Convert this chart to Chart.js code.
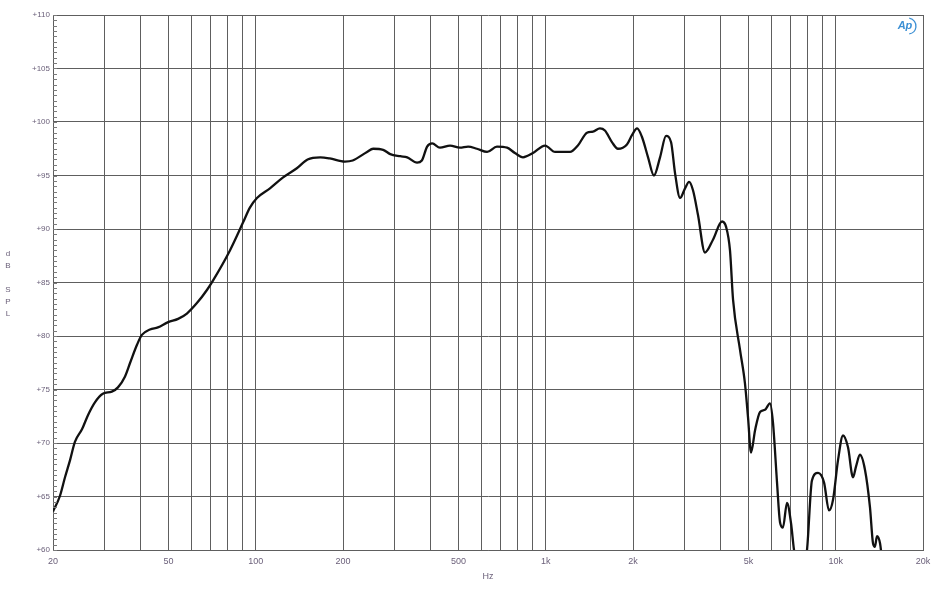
<!DOCTYPE html>
<html>
<head>
<meta charset="utf-8">
<script src="https://cdn.jsdelivr.net/npm/chart.js@4.4.1/dist/chart.umd.min.js"></script>
<style>
  html, body { margin: 0; padding: 0; background: #fff; }
</style>
</head>
<body>
<canvas id="splChart" width="940" height="600"></canvas>
<script>
// frequency response (Hz / dB SPL)
const freqs = [20, 21.1, 22, 22.9, 23.8, 25.2, 26.4, 27.9, 29.7, 31.9, 33.5, 35.4, 36.9, 39, 40.5, 43.2, 46, 49.9, 54, 57.9,
  62.8, 67.9, 71.3, 81.5, 90.4, 95.5, 101, 112, 124, 139, 151, 167, 180, 203, 216, 242, 254, 275, 291, 315,
  333, 360, 374, 390, 406, 432, 468, 506, 540, 579, 628, 679, 736, 783, 835, 904, 995, 1077, 1213, 1291,
  1388, 1456, 1538, 1600, 1694, 1774, 1906, 1986, 2066, 2148, 2254, 2362, 2479, 2600, 2706, 2793, 2906, 3023, 3121, 3222,
  3351, 3542, 3774, 4055, 4188, 4320, 4426, 4678, 4864, 4985, 5106, 5272, 5484, 5704, 5933, 6077, 6276, 6426, 6579, 6792,
  7014, 7182, 7532, 7962, 8281, 8690, 9117, 9482, 9790, 10186, 10598, 11027, 11472, 11748, 12126, 12616, 13126, 13452, 13656, 13880,
  14223, 14673, 16000, 20000];
const spl = [63.6, 65.0, 66.8, 68.4, 70.1, 71.3, 72.6, 73.8, 74.6, 74.8, 75.2, 76.2, 77.5, 79.2, 80.1, 80.6, 80.8, 81.3, 81.6, 82.1,
  83.1, 84.3, 85.2, 88.0, 90.6, 92.0, 92.9, 93.8, 94.8, 95.7, 96.5, 96.7, 96.6, 96.3, 96.4, 97.2, 97.5, 97.4, 97.0, 96.8,
  96.7, 96.2, 96.4, 97.7, 98.0, 97.6, 97.8, 97.6, 97.7, 97.5, 97.2, 97.7, 97.6, 97.1, 96.7, 97.1, 97.8, 97.2, 97.2, 97.8,
  99.0, 99.1, 99.4, 99.2, 98.1, 97.5, 97.9, 98.8, 99.4, 98.6, 96.7, 95.0, 96.7, 98.7, 98.1, 95.2, 92.9, 93.8, 94.4, 93.6,
  91.3, 87.8, 89.0, 90.7, 90.2, 88.0, 83.4, 78.7, 75.6, 72.4, 69.1, 71.2, 72.9, 73.1, 73.7, 71.9, 66.3, 62.6, 62.1, 64.4,
  62.5, 60.0, 57.0, 60.0, 66.5, 67.2, 66.3, 63.7, 64.7, 68.4, 70.7, 69.6, 66.8, 67.8, 68.9, 67.5, 64.0, 60.6, 60.3, 61.3,
  60.6, 57.5, 55, 50];

// axes
const xGrid = [20, 30, 40, 50, 60, 70, 80, 90, 100, 200, 300, 400, 500, 600, 700, 800, 900,
  1000, 2000, 3000, 4000, 5000, 6000, 7000, 8000, 9000, 10000, 20000];
const xLabelled = [20, 50, 100, 200, 500, 1000, 2000, 5000, 10000, 20000];
const yMin = 60, yMax = 110, yStep = 5, yMinorStep = 0.5;
const yTitle = ["d", "B", "", "S", "P", "L"];

const textColor = "#6b607a";
const gridColor = "#5e5e5e";

const points = freqs.map((f, i) => ({ x: f, y: spl[i] }));

function fmtHz(v) {
  return v >= 1000 ? v / 1000 + "k" : "" + v;
}

// little extras: minor ticks on the y axis, stacked y title, logo
const extras = {
  id: "extras",
  afterDraw(chart) {
    const c = chart.ctx;
    const y = chart.scales.y;
    const left = chart.chartArea.left;
    c.save();
    c.strokeStyle = "#7a7a7a";
    c.lineWidth = 1;
    for (let v = yMin; v <= yMax; v += yMinorStep) {
      const py = Math.round(y.getPixelForValue(v)) + 0.5;
      c.beginPath();
      c.moveTo(left, py);
      c.lineTo(left + 4, py);
      c.stroke();
    }
    c.fillStyle = textColor;
    c.font = "8px 'Liberation Sans', Arial, sans-serif";
    c.textAlign = "center";
    c.textBaseline = "middle";
    yTitle.forEach((ch, i) => {
      c.fillText(ch, 8, 254 + i * 12);
    });
    // Ap logo
    c.strokeStyle = "#3b8fd4";
    c.fillStyle = "#3b8fd4";
    c.lineWidth = 1.3;
    c.beginPath();
    c.arc(908, 26, 8, -Math.PI * 0.45, Math.PI * 0.45);
    c.stroke();
    c.font = "italic bold 11px 'Liberation Sans', Arial, sans-serif";
    c.fillText("Ap", 905, 26);
    c.restore();
  },
};

const ctx = document.getElementById("splChart").getContext("2d");
const splChart = new Chart(ctx, {
  type: "line",
  data: {
    datasets: [
      {
        label: "SPL",
        data: points,
        borderColor: "#111111",
        borderWidth: 2.3,
        pointRadius: 0,
        cubicInterpolationMode: "monotone",
        clip: 0,
      },
    ],
  },
  options: {
    responsive: false,
    animation: false,
    layout: { padding: { left: 0, top: 15, right: 17, bottom: 18 } },
    plugins: { legend: { display: false }, tooltip: { enabled: false } },
    scales: {
      x: {
        type: "logarithmic",
        min: 20,
        max: 20000,
        afterBuildTicks: (scale) => {
          scale.ticks = xGrid.map((v) => ({ value: v }));
        },
        afterFit: (scale) => {
          scale.height = 32;
        },
        grid: { color: gridColor, lineWidth: 1, drawTicks: false },
        border: { color: gridColor, width: 1 },
        ticks: {
          autoSkip: false,
          maxRotation: 0,
          padding: 6,
          color: textColor,
          font: { family: "'Liberation Sans', Arial, sans-serif", size: 9 },
          callback: (v) => (xLabelled.includes(v) ? fmtHz(v) : ""),
        },
        title: {
          display: true,
          text: "Hz",
          color: textColor,
          padding: { top: 0, bottom: 0 },
          font: { family: "'Liberation Sans', Arial, sans-serif", size: 9 },
        },
      },
      y: {
        min: yMin,
        max: yMax,
        afterFit: (scale) => {
          scale.width = 53;
        },
        grid: { color: gridColor, lineWidth: 1, drawTicks: false },
        border: { color: gridColor, width: 1 },
        ticks: {
          stepSize: yStep,
          padding: 3,
          color: textColor,
          font: { family: "'Liberation Sans', Arial, sans-serif", size: 8 },
          callback: (v) => "+" + v,
        },
      },
    },
  },
  plugins: [extras],
});
</script>
</body>
</html>
